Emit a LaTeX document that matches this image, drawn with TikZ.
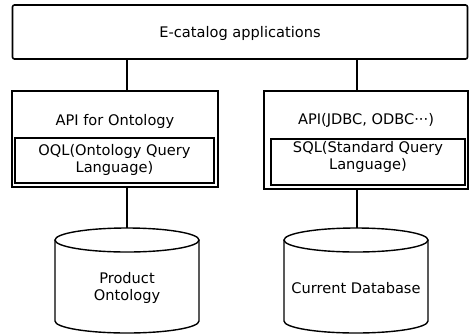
\documentclass[tikz,border=0pt]{standalone}
\usepackage{fontspec}
\setmainfont{DejaVu Sans}
\begin{document}
\begin{tikzpicture}[x=1pt,y=-1pt,
  box/.style={draw,line width=1.6pt,inner sep=0pt},
  lbl/.style={font=\fontsize{14.6}{17}\selectfont,align=center,inner sep=0pt},
  conn/.style={line width=1.7pt},
  cyl/.style={line width=1.4pt}]
\useasboundingbox (0,0) rectangle (470,335);
% top box
\node[box,rounded corners=2pt,minimum width=455pt,minimum height=54pt] (top) at (240,32) {};
\node[lbl] (toplbl) at (240,33) {E-catalog applications};
% left API box
\node[box,minimum width=206pt,minimum height=96pt] (lapi) at (115,139) {};
\node[lbl] (lapilbl) at (115,121) {API for Ontology};
\node[box,minimum width=199pt,minimum height=45pt] (linner) at (114.5,160.5) {};
\node[lbl] (linnerlbl) at (114.5,160) {OQL(Ontology Query\\Language)};
% right API box
\node[box,minimum width=204pt,minimum height=98pt] (rapi) at (366,140) {};
\node[lbl] (rapilbl) at (366,120) {API(JDBC, ODBC···)};
\node[box,minimum width=194pt,minimum height=46pt] (rinner) at (368,162) {};
\node[lbl] (rinnerlbl) at (368,157) {SQL(Standard Query\\Language)};
% cylinders
\draw[cyl] (55,240) -- (55,321) arc[start angle=180,end angle=360,x radius=72pt,y radius=12pt] -- (199,240);
\draw[cyl,fill=white] (127,240) ellipse [x radius=72pt,y radius=12pt];
\coordinate (db1top) at (127,228);
\node[lbl] (db1) at (127,288) {Product\\Ontology};
\draw[cyl] (284,240) -- (284,321) arc[start angle=180,end angle=360,x radius=72pt,y radius=12pt] -- (428,240);
\draw[cyl,fill=white] (356,240) ellipse [x radius=72pt,y radius=12pt];
\coordinate (db2top) at (356,228);
\node[lbl] (db2) at (356,288) {Current Database};
% connectors
\coordinate (cl) at (127,0);
\coordinate (cr) at (357,0);
\draw[conn] (cl |- top.south) -- (cl |- lapi.north);
\draw[conn] (cr |- top.south) -- (cr |- rapi.north);
\draw[conn] (cl |- lapi.south) -- (db1top);
\draw[conn] (cr |- rapi.south) -- (cr |- db2top);
\end{tikzpicture}
\end{document}
